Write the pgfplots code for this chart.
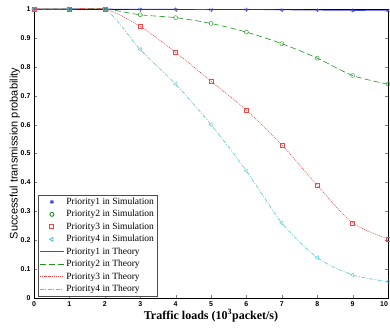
\documentclass[border=0pt]{standalone}
\usepackage{fontspec}
\setmainfont{Liberation Serif}
\newfontfamily\arialfont{Liberation Sans}
\usepackage{pgfplots}
\pgfplotsset{compat=1.18}
\definecolor{cP1}{RGB}{70,70,215}
\definecolor{cP2}{RGB}{30,150,30}
\definecolor{cP3}{RGB}{240,70,70}
\definecolor{cP4}{RGB}{80,200,210}
\begin{document}
\begin{tikzpicture}[x=1pt,y=1pt]
\clip (-34,-32) rectangle (356,298);
\begin{axis}[
  at={(0,0)}, anchor=south west,
  scale only axis, width=354pt, height=289pt,
  xmin=0, xmax=10, ymin=0, ymax=1,
  xtick={0,1,...,10},
  xticklabels={0,1,2,3,4,5,6,7,8,9,\llap{10}},
  ytick={0,0.1,0.2,0.3,0.4,0.5,0.6,0.7,0.8,0.9,1},
  yticklabels={0,0.1,0.2,0.3,0.4,0.5,0.6,0.7,0.8,0.9,1},
  /pgf/number format/assume math mode=true,
  tick label style={font=\arialfont\fontsize{7}{8}\selectfont\bfseries},
  tick align=inside, tick pos=both,
  major tick length=3pt,
  xlabel={\textbf{Traffic loads (10$^{\mathbf{3}}$packet/s)}},
  ylabel={\arialfont Successful transmission probability},
  xlabel style={font=\fontsize{12}{13}\selectfont, yshift=4pt},
  ylabel style={font=\fontsize{11}{13}\selectfont, yshift=-6pt},
  legend style={at={(0.012,0.005)}, anchor=south west,
    font=\fontsize{9.5}{10}\selectfont, draw=black!70, inner sep=1pt,
    row sep=0.4pt, cells={anchor=west}},
  legend image code/.code={\draw[mark repeat=2,mark phase=2,#1] plot coordinates {(0pt,0pt)(12pt,0pt)(24pt,0pt)};},
  legend image post style={line width=0.9pt},
  legend cell align=left,
]
\addplot[only marks, mark=asterisk, mark size=2pt, color=cP1] coordinates {
(0,1)(1,1)(2,1)(3,0.999)(4,0.999)(5,0.998)(6,0.998)(7,0.997)(8,0.996)(9,0.995)(10,0.994)};
\addplot[only marks, mark=o, mark size=2pt, color=cP2] coordinates {
(0,1)(1,1)(2,1)(3,0.98)(4,0.97)(5,0.95)(6,0.92)(7,0.88)(8,0.83)(9,0.77)(10,0.74)};
\addplot[only marks, mark=square, mark size=2pt, color=cP3] coordinates {
(0,1)(1,1)(2,1)(3,0.94)(4,0.85)(5,0.75)(6,0.65)(7,0.53)(8,0.39)(9,0.26)(10,0.205)};
\addplot[only marks, mark=triangle, mark options={rotate=90}, mark size=2.2pt, color=cP4] coordinates {
(0,1)(1,1)(2,1)(3,0.86)(4,0.74)(5,0.60)(6,0.44)(7,0.26)(8,0.14)(9,0.08)(10,0.057)};
\addplot[solid, color=cP1, line width=0.6pt, smooth] coordinates {
(0,1)(1,1)(2,1)(3,0.999)(4,0.999)(5,0.998)(6,0.998)(7,0.997)(8,0.996)(9,0.995)(10,0.994)};
\addplot[dash pattern=on 6pt off 3pt, color=cP2, line width=0.6pt, smooth] coordinates {
(0,1)(1,1)(2,1)(3,0.98)(4,0.97)(5,0.95)(6,0.92)(7,0.88)(8,0.83)(9,0.77)(10,0.74)};
\addplot[dash pattern=on 1pt off 1pt, color=cP3, line width=0.6pt, smooth] coordinates {
(0,1)(1,1)(2,1)(3,0.94)(4,0.85)(5,0.75)(6,0.65)(7,0.53)(8,0.39)(9,0.26)(10,0.205)};
\addplot[dash pattern=on 4pt off 1.5pt on 1pt off 1.5pt, color=cP4, line width=0.6pt, smooth] coordinates {
(0,1)(1,1)(2,1)(3,0.86)(4,0.74)(5,0.60)(6,0.44)(7,0.26)(8,0.14)(9,0.08)(10,0.057)};
\legend{Priority1 in Simulation, Priority2 in Simulation, Priority3 in Simulation, Priority4 in Simulation,
Priority1 in Theory, Priority2 in Theory, Priority3 in Theory, Priority4 in Theory}
\end{axis}
\end{tikzpicture}
\end{document}
